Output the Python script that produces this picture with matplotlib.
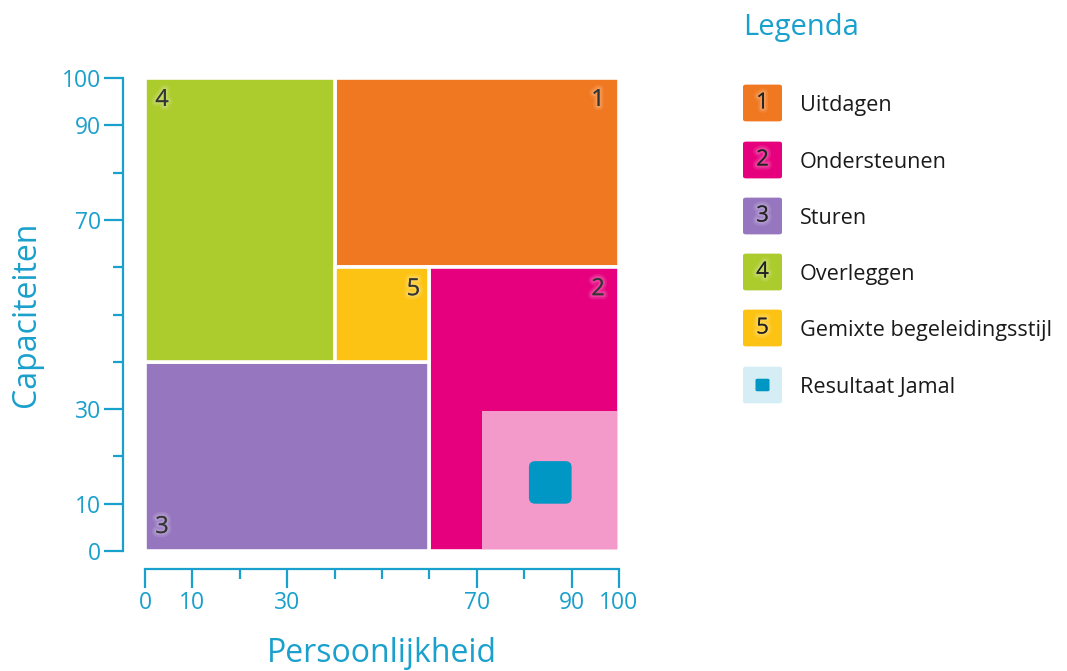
import matplotlib.pyplot as plt
import matplotlib.patheffects as pe
from matplotlib.patches import Rectangle, FancyBboxPatch

# regions of the style matrix (persoonlijkheid x, capaciteiten y)
region_ids = ['1', '2', '3', '4', '5']
region_names = ['Uitdagen', 'Ondersteunen', 'Sturen', 'Overleggen',
                'Gemixte begeleidingsstijl']
region_x0 = [40, 60, 0, 0, 40]
region_x1 = [100, 100, 60, 40, 60]
region_y0 = [60, 0, 0, 40, 40]
region_y1 = [100, 60, 40, 100, 60]

# result zone + result of Jamal
zone_x = [71, 100]
zone_y = [0, 29.5]
jamal_x = 85.5
jamal_y = 14.5
jamal_label = 'Resultaat Jamal'

major_ticks = [0, 10, 30, 70, 90, 100]
minor_ticks = [20, 40, 50, 60, 80]

colors = ['#F07820', '#E6007E', '#9677BF', '#ACCB2C', '#FDC314']
zone_color = '#F49ACB'
jamal_color = '#0097C4'
cyan = '#1AA0CC'
dark = '#333333'

plt.rcParams['font.family'] = ['Open Sans', 'DejaVu Sans']

fig = plt.figure(figsize=(10.67, 6.71), dpi=100)
ax = fig.add_axes([145 / 1067, 1 - 551 / 671, 474 / 1067, 473 / 671])
ax.set_xlim(0, 100)
ax.set_ylim(0, 100)

glow = [pe.withStroke(linewidth=6, foreground='white', alpha=0.10),
        pe.withStroke(linewidth=3, foreground='white', alpha=0.15)]
# label offsets (pixels) from the chosen corner
corner = {'1': ('x1', 'y1'), '2': ('x1', 'y1'), '3': ('x0', 'y0'),
          '4': ('x0', 'y1'), '5': ('x1', 'y1')}

gap = 0.38  # half the white separator, in data units
for i, rid in enumerate(region_ids):
    x0, x1, y0, y1 = region_x0[i], region_x1[i], region_y0[i], region_y1[i]
    ax.add_patch(Rectangle((x0, y0), x1 - x0, y1 - y0, facecolor=colors[i],
                           edgecolor='white', linewidth=2.6))
    if rid == '2':
        ax.add_patch(Rectangle((zone_x[0], zone_y[0] + gap), zone_x[1] - zone_x[0] - gap,
                               zone_y[1] - zone_y[0] - gap, facecolor=zone_color,
                               edgecolor='none'))
    cx, cy = corner[rid]
    px = x1 if cx == 'x1' else x0
    py = y1 if cy == 'y1' else y0
    dx = -21 if cx == 'x1' else 17
    dy = -22 if cy == 'y1' else 24
    if rid == '5':
        dx = -16
    ax.annotate(rid, (px, py), xytext=(dx, dy), textcoords='offset pixels',
                ha='center', va='center', fontsize=17, color=dark,
                path_effects=glow)

# Jamal
s = 9
ax.add_patch(FancyBboxPatch((jamal_x - s / 2 + 1, jamal_y - s / 2 + 1), s - 2, s - 2,
                            boxstyle='round,pad=1,rounding_size=1.3',
                            facecolor=jamal_color, edgecolor='none'))

# axes
for side in ['top', 'right']:
    ax.spines[side].set_visible(False)
ax.spines['left'].set_position(('outward', 16))
ax.spines['bottom'].set_position(('outward', 13.3))
for side in ['left', 'bottom']:
    ax.spines[side].set_color(cyan)
    ax.spines[side].set_linewidth(1.6)
    ax.spines[side].set_bounds(0, 100)

ax.set_xticks(major_ticks)
ax.set_yticks(major_ticks)
ax.set_xticks(minor_ticks, minor=True)
ax.set_yticks(minor_ticks, minor=True)
ax.tick_params(which='major', length=13.5, width=1.6, color=cyan,
               labelcolor=cyan, labelsize=16.5, pad=2)
ax.tick_params(which='minor', length=7, width=1.6, color=cyan)

ax.set_xlabel('Persoonlijkheid', color=cyan, fontsize=23, labelpad=16)
ax.set_ylabel('Capaciteiten', color=cyan, fontsize=23, labelpad=14)

# legend
fig.text(743 / 1067, 1 - 28 / 671, 'Legenda', color=cyan, fontsize=21,
         ha='left', va='center')
row_y = [103, 160, 216, 272, 328, 385]
box = 39
for i, name in enumerate(region_names + [jamal_label]):
    yc = row_y[i]
    fc = colors[i] if i < len(colors) else '#D5EEF6'
    fig.patches.append(FancyBboxPatch(
        ((743 + 3) / 1067, 1 - (yc + box / 2 - 3) / 671), (box - 6) / 1067, (box - 6) / 671,
        boxstyle='round,pad=0.0028', facecolor=fc, edgecolor='none',
        transform=fig.transFigure, figure=fig))
    if i < len(region_ids):
        fig.text((743 + box / 2) / 1067, 1 - yc / 671, region_ids[i], color='#222222',
                 fontsize=16, ha='center', va='center', path_effects=glow)
    else:
        q = 14
        fig.patches.append(FancyBboxPatch(
            ((743 + box / 2 - q / 2 + 2) / 1067, 1 - (yc + q / 2 - 2) / 671),
            (q - 4) / 1067, (q - 4) / 671,
            boxstyle='round,pad=0.0019', facecolor=jamal_color, edgecolor='none',
            transform=fig.transFigure, figure=fig))
    fig.text(800 / 1067, 1 - (yc + 2.5) / 671, name, color='#1a1a1a', fontsize=15.6,
             ha='left', va='center')

fig.savefig('out.png', dpi=100)
